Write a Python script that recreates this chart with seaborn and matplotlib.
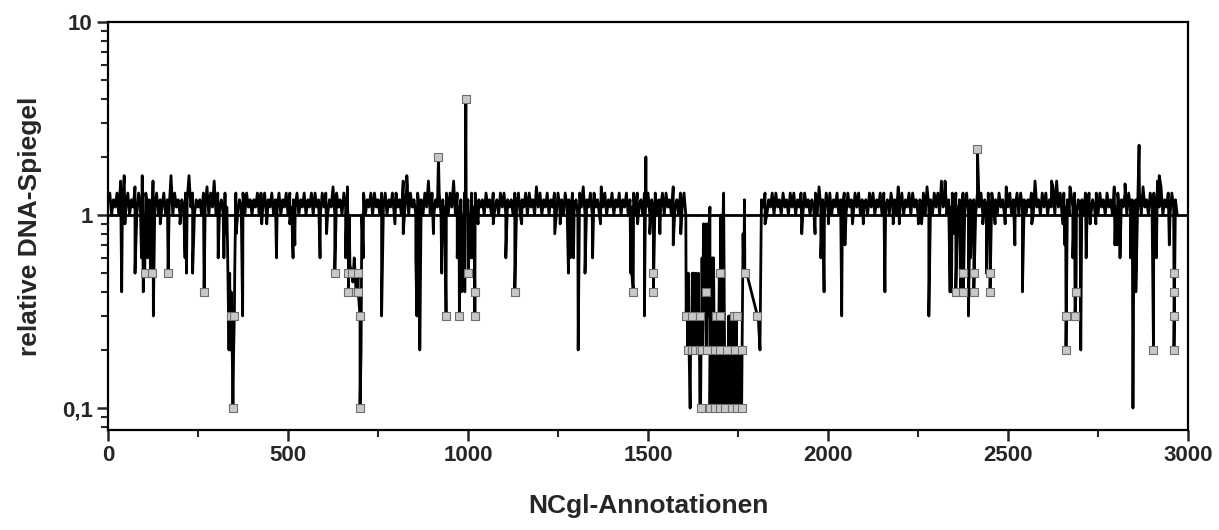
import matplotlib
matplotlib.use("Agg")
import matplotlib.pyplot as plt
import matplotlib.ticker as mticker
import numpy as np
import pandas as pd
import seaborn as sns

# baseline trace, one char per 5 annotations (row = 300 annotations)
# '0'..'6' -> 1.0..1.6, '9' -> 0.9, '.' -> no point
BASE_ROWS = [
    ".302130516" "1302140316" "0312051302" "1302160312" "0213261302" "1203140315",
    "0312031..." ".302130312" "0213031302" "1302130213" "0312130213" "0213031203",
    "1302140312" "03140....." ".030213031" "2031302130" "3120514031" "2031203150",
    "3021302130" "3150312031" "2031302120" "3120312031" "3021203130" "2130312041",
    "3021302130" "3120312031" "2031402130" "3120413021" "3021302130" "2130312031",
    "3021302130" "3120412031" "30........" ".........." ".........." "..........",
    "....130213" "0312031203" "1302130312" "0213041203" "1302130213" "0312031302",
    "1203130213" "0312031204" "1302130312" "0213041203" "1305130213" "0312031302",
    "1203130213" "0312031204" "1302130312" "0213051203" "1302140513" "0312031302",
    "1203130213" "0312031204" "1302130312" "0213041203" "1305140213" "03120.....",
]

# dips and spikes of the trace
DIP_X = [38, 47, 75, 93, 98, 110, 118, 126, 145, 200, 214, 218, 235, 306, 322, 326, 329, 332,
         336, 338, 340, 342, 345, 349, 352, 356, 374,
         427, 441, 468, 505, 514, 519, 589, 607, 660, 672, 680, 684, 693, 703, 709, 760, 797, 820,
         830, 855, 858, 866, 904, 927, 932, 970, 982, 988, 991, 1005, 1011, 1028, 1070, 1105, 1149, 1241,
         1256, 1279, 1284, 1293, 1306, 1325, 1346, 1368, 1452, 1455, 1471, 1490, 1494, 1505, 1533, 1570, 1591,
         1606, 1608, 1610, 1612, 1614, 1617, 1619, 1621, 1623, 1625, 1627, 1629, 1631, 1633, 1635, 1637,
         1640, 1642, 1644, 1648, 1650, 1652, 1654, 1656, 1658, 1660, 1662, 1664, 1666, 1668, 1670, 1672,
         1674, 1676, 1678, 1680, 1682, 1684, 1686, 1688, 1690, 1692, 1694, 1696, 1698, 1702, 1704, 1706,
         1708, 1710, 1712, 1714, 1716, 1718, 1720, 1722, 1724, 1726, 1728, 1730, 1732, 1734, 1736, 1738,
         1740, 1742, 1744, 1748, 1750, 1752, 1755, 1757, 1762, 1764, 1766, 1768, 1774, 1806, 1811, 1815,
         1825, 1927, 1964, 1980, 1989, 2001, 2038, 2047, 2068, 2098, 2158, 2181, 2198, 2251, 2260, 2280,
         2325, 2339, 2343, 2350, 2362, 2368, 2390, 2396, 2430, 2440, 2464, 2492, 2519, 2540, 2566, 2621,
         2652, 2658, 2672, 2680, 2702, 2717, 2728, 2744, 2797, 2803, 2811, 2825, 2840, 2847, 2855, 2864,
         2912, 2920, 2948]
DIP_Y = [0.4, 0.9, 0.5, 0.6, 0.4, 0.6, 0.5, 0.3, 0.9, 0.9, 0.6, 0.5, 0.5, 0.6, 0.6, 0.9, 0.8, 0.7,
         0.2, 0.5, 0.2, 0.4, 0.2, 0.2, 0.5, 0.8, 0.3,
         0.9, 0.9, 0.6, 0.9, 0.6, 0.7, 0.6, 0.8, 0.6, 0.55, 0.45, 0.6, 0.45, 0.2, 0.6, 0.3, 0.9, 0.8,
         1.6, 0.6, 0.3, 0.2, 0.8, 0.5, 0.9, 0.6, 0.4, 0.7, 0.4, 0.6, 0.6, 0.9, 0.9, 0.6, 0.9, 0.8,
         0.9, 0.5, 0.6, 0.6, 0.2, 0.5, 0.6, 0.9, 0.5, 0.5, 0.9, 0.3, 2.0, 0.8, 0.8, 0.7, 0.8,
         0.3, 0.5, 0.2, 0.5, 0.2, 0.1, 0.3, 0.2, 0.5, 0.3, 0.5, 0.2, 0.3, 0.5, 0.2, 0.3,
         0.5, 0.2, 0.1, 0.3, 0.6, 0.2, 0.9, 0.3, 0.4, 0.9, 0.2, 0.4, 0.9, 0.3, 0.9, 1.1,
         0.3, 0.1, 0.6, 0.1, 0.6, 0.2, 0.1, 0.3, 0.1, 0.3, 0.1, 0.2, 0.5, 1.0, 0.2, 0.1,
         0.9, 1.3, 0.3, 0.1, 0.2, 0.1, 0.2, 0.1, 0.3, 0.1, 0.3, 0.1, 0.3, 0.1, 0.2, 0.1,
         0.2, 0.1, 0.3, 0.2, 0.1, 0.2, 0.1, 0.2, 0.3, 0.8, 0.5, 1.2, 0.5, 0.3, 0.2, 1.2,
         0.9, 0.8, 0.8, 0.6, 0.4, 0.9, 0.3, 0.7, 0.9, 0.9, 0.4, 0.9, 0.9, 0.9, 0.9, 0.3,
         1.5, 0.4, 0.4, 0.8, 0.9, 0.4, 0.3, 0.6, 0.9, 0.5, 0.9, 0.9, 0.7, 0.4, 0.9, 1.5,
         0.9, 0.7, 1.4, 0.6, 0.2, 0.6, 0.9, 0.9, 0.7, 0.7, 0.6, 1.45, 0.6, 0.1, 0.4, 2.3,
         0.6, 1.6, 0.7]

# highlighted points (grey squares)
MARK_X = [102, 121, 167, 267, 343, 347, 351,
          630, 668, 668, 677, 689, 695, 695, 700, 700,
          918, 939, 976, 994, 1001, 1019, 1019, 1130,
          1459, 1515, 1515,
          1606, 1610, 1621, 1621, 1631, 1643, 1643, 1646, 1649, 1660, 1663, 1672, 1686, 1686, 1688,
          1700, 1700, 1700, 1700, 1714, 1718, 1733, 1738, 1741, 1746, 1746, 1760, 1760, 1769, 1804,
          2355, 2376, 2376, 2405, 2405, 2415, 2450, 2450,
          2661, 2661, 2686, 2689, 2904, 2961, 2961, 2961, 2961]
MARK_Y = [0.5, 0.5, 0.5, 0.4, 0.3, 0.1, 0.3,
          0.5, 0.5, 0.4, 0.5, 0.4, 0.5, 0.4, 0.3, 0.1,
          2.0, 0.3, 0.3, 4.0, 0.5, 0.4, 0.3, 0.4,
          0.4, 0.5, 0.4,
          0.3, 0.2, 0.3, 0.2, 0.2, 0.3, 0.2, 0.1, 0.2, 0.4, 0.2, 0.1, 0.2, 0.1, 0.3,
          0.5, 0.3, 0.2, 0.1, 0.1, 0.2, 0.1, 0.3, 0.2, 0.3, 0.1, 0.2, 0.1, 0.5, 0.3,
          0.4, 0.5, 0.4, 0.5, 0.4, 2.2, 0.5, 0.4,
          0.3, 0.2, 0.3, 0.4, 0.2, 0.5, 0.4, 0.3, 0.2]

X_TICKS = [0, 500, 1000, 1500, 2000, 2500, 3000]
Y_TICKS = [0.1, 1, 10]
Y_TICK_LABELS = ["0,1", "1", "10"]

CODE = {"0": 1.0, "1": 1.1, "2": 1.2, "3": 1.3, "4": 1.4, "5": 1.5, "6": 1.6, "9": 0.9}


def build_trace():
    bx, by = [], []
    for r, row in enumerate(BASE_ROWS):
        for i, ch in enumerate(row):
            if ch in CODE:
                bx.append(r * 300 + i * 5)
                by.append(CODE[ch])
    df = pd.concat([
        pd.DataFrame({"x": bx, "y": by}),
        pd.DataFrame({"x": DIP_X, "y": DIP_Y}),
        pd.DataFrame({"x": MARK_X, "y": MARK_Y}),
    ], ignore_index=True)
    return df.sort_values("x", kind="mergesort").reset_index(drop=True)


sns.set_style("ticks")
plt.rcParams["font.family"] = ["Liberation Sans", "DejaVu Sans"]
plt.rcParams["font.weight"] = "bold"

trace = build_trace()
marks = pd.DataFrame({"x": MARK_X, "y": MARK_Y})

fig, ax = plt.subplots(figsize=(12.19, 5.30), dpi=100)
fig.subplots_adjust(left=0.0886, right=0.9746, top=0.9585, bottom=0.1887)

ax.axhline(1, color="black", lw=2.0, zorder=1)
sns.lineplot(data=trace, x="x", y="y", sort=False, estimator=None, color="black",
             lw=2.0, ax=ax, zorder=2)
sns.scatterplot(data=marks, x="x", y="y", marker="s", s=36, color="#c8c8c8",
                edgecolor="#6e6e6e", linewidth=0.8, ax=ax, zorder=3)

ax.set_yscale("log")
ax.set_ylim(0.077, 10)
ax.set_xlim(0, 3000)
ax.set_yticks(Y_TICKS)
ax.set_yticklabels(Y_TICK_LABELS)
ax.yaxis.set_minor_locator(mticker.LogLocator(base=10, subs=np.arange(2, 10)))
ax.yaxis.set_minor_formatter(mticker.NullFormatter())
ax.set_xticks(X_TICKS)
ax.xaxis.set_minor_locator(mticker.MultipleLocator(250))

ax.tick_params(which="major", direction="out", length=8, width=1.8, labelsize=16, pad=3)
ax.tick_params(which="minor", direction="out", length=5, width=1.5)
for sp in ax.spines.values():
    sp.set_visible(True)
    sp.set_linewidth(1.6)
    sp.set_color("black")

ax.set_xlabel("NCgl-Annotationen", fontsize=19, fontweight="bold", labelpad=20)
ax.set_ylabel("relative DNA-Spiegel", fontsize=19, fontweight="bold", labelpad=14)

fig.savefig("out.png", dpi=100)
